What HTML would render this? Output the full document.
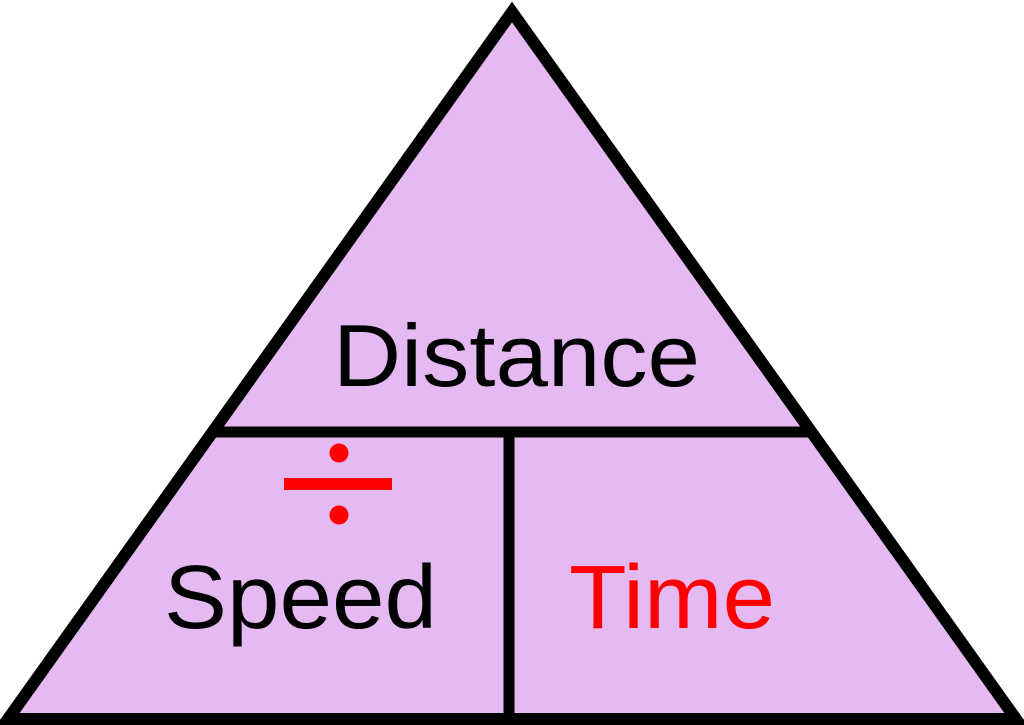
<!DOCTYPE html>
<html><head><meta charset="utf-8"><style>
html,body{margin:0;padding:0;background:#fff;width:1024px;height:725px;overflow:hidden}
svg{display:block}
text{font-family:"Liberation Sans",sans-serif}
</style></head><body>
<svg width="1024" height="725" viewBox="0 0 1024 725">
<polygon points="512,12 8,719 1016,719" fill="#e5b9f2" stroke="#000" stroke-width="12" stroke-linejoin="miter" stroke-miterlimit="10"/>
<line x1="214" y1="432" x2="808" y2="432" stroke="#000" stroke-width="11"/>
<line x1="509" y1="432" x2="509" y2="716" stroke="#000" stroke-width="11"/>
<text x="333" y="386" font-size="88" textLength="367" lengthAdjust="spacingAndGlyphs" fill="#000">Distance</text>
<text x="164" y="628" font-size="90" textLength="273" lengthAdjust="spacingAndGlyphs" fill="#000">Speed</text>
<text x="569" y="628" font-size="90" textLength="206" lengthAdjust="spacingAndGlyphs" fill="#ff0000">Time</text>
<rect x="284" y="478" width="108" height="12" fill="#ff0000"/>
<circle cx="339" cy="453" r="9.5" fill="#ff0000"/>
<circle cx="339" cy="515" r="9.5" fill="#ff0000"/>
</svg>
</body></html>
